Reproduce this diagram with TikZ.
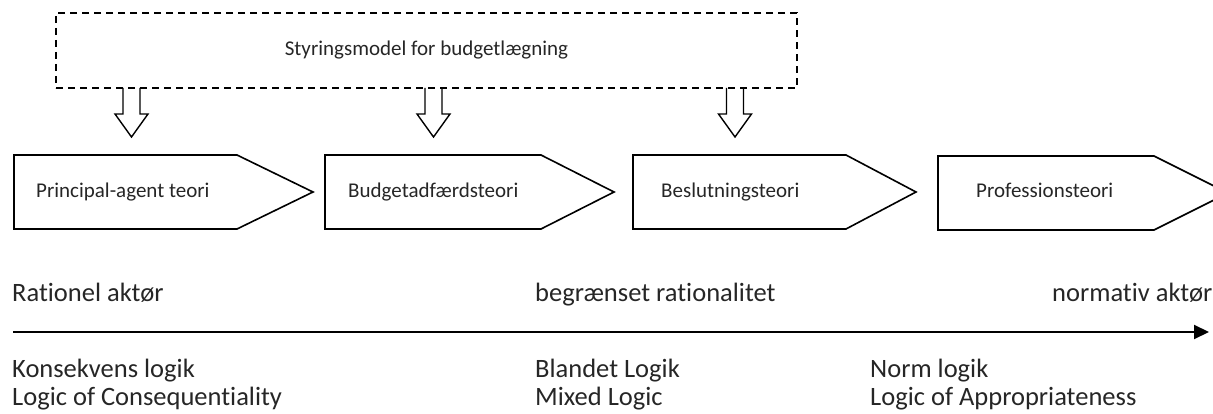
\documentclass[tikz,border=0pt]{standalone}
\usepackage{fontspec}
\setmainfont{Carlito}[Ligatures={NoCommon,NoContextual}]
\usetikzlibrary{arrows.meta}
\begin{document}
\begin{tikzpicture}[x=1pt,y=-1pt,
  penta/.style={draw=black, line width=1.6pt, line join=miter},
  hollow/.style={draw=black, line width=1.4pt, line join=miter},
  ctrlbox/.style={draw=black, line width=1.6pt, dash pattern=on 7pt off 5pt, minimum width=741pt, minimum height=75pt, inner sep=0pt, text=black!85, font=\fontsize{21}{25}\selectfont},
  plbl/.style={anchor=base west, inner sep=0pt, text=black!85, font=\fontsize{21}{25}\selectfont},
  blbl/.style={anchor=base west, inner sep=0pt, text=black!85, font=\fontsize{26.5}{31}\selectfont},
  axis/.style={line width=2pt, -{Triangle[length=15pt,width=14pt]}}
]
\useasboundingbox (0,0) rectangle (1213,414);
\clip (0,0) rectangle (1213,414);

% control box
\node[ctrlbox] (ctrl) at (426.5,50.5) {Styringsmodel for budgetlægning};

% pentagons
\draw[penta] (14,155) -- (237,155) -- (313,192) -- (237,229) -- (14,229) -- cycle;
\draw[penta] (325,155) -- (541,155) -- (614,192) -- (541,229) -- (325,229) -- cycle;
\draw[penta] (633,155) -- (846,155) -- (916,192) -- (846,229) -- (633,229) -- cycle;
\draw[penta] (938,156) -- (1154,156) -- (1228,193) -- (1154,230) -- (938,230) -- cycle;

\node[plbl] (t1) at (36,198) {Principal-agent teori};
\node[plbl] (t2) at (348,198) {Budgetadfærdsteori};
\node[plbl] (t3) at (661,198) {Beslutningsteori};
\node[plbl] (t4) at (976,198) {Professionsteori};

% hollow arrows from the box
\foreach \cx in {131.5,433.5,735} {
  \draw[hollow] (\cx-8.5,88) -- (\cx-8.5,114) -- (\cx-16.5,114) -- (\cx,137)
     -- (\cx+16.5,114) -- (\cx+8.5,114) -- (\cx+8.5,88);
}

% axis
\coordinate (a0) at (13,332);
\coordinate (a1) at (1209,332);
\draw[axis] (a0) -- (a1);

\node[blbl] (r1) at (12,301) {Rationel aktør};
\node[blbl] (r2) at (535,301) {begrænset rationalitet};
\node[blbl] (r3) at (1052,301) {normativ aktør};

\node[blbl] (k1) at (12,377) {Konsekvens logik};
\node[blbl] (k2) at (535,377) {Blandet Logik};
\node[blbl] (k3) at (870,377) {Norm logik};

\node[blbl] (l1) at (12,405) {Logic of Consequentiality};
\node[blbl] (l2) at (535,405) {Mixed Logic};
\node[blbl] (l3) at (870,405) {Logic of Appropriateness};
\end{tikzpicture}
\end{document}
